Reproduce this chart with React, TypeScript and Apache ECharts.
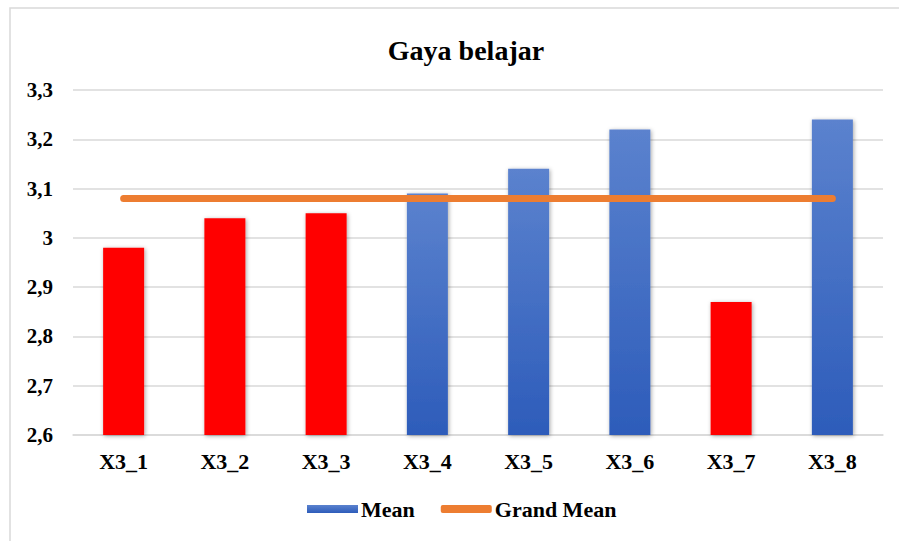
import React, { useEffect, useRef } from "react";
import * as echarts from "echarts";

const categories = ["X3_1", "X3_2", "X3_3", "X3_4", "X3_5", "X3_6", "X3_7", "X3_8"];
const meanValues = [2.98, 3.04, 3.05, 3.09, 3.14, 3.22, 2.87, 3.24];
const grandMean = 3.08;
const grandMeanValues = categories.map(() => grandMean);

const FONT = "Liberation Serif, Times New Roman, serif";

export default function App() {
  const ref = useRef<HTMLDivElement>(null);
  useEffect(() => {
    if (!ref.current) return;
    const chart = echarts.init(ref.current, null, { renderer: "svg" });
    const blue = new echarts.graphic.LinearGradient(0, 0, 0, 1, [
      { offset: 0, color: "#5B82CE" },
      { offset: 1, color: "#2D5CBA" },
    ]);
    chart.setOption({
      animation: false,
      backgroundColor: "#ffffff",
      textStyle: { fontFamily: FONT },
      title: {
        text: "Gaya belajar",
        left: 461,
        textAlign: "center",
        top: 31,
        textStyle: { fontFamily: FONT, fontWeight: "bold", fontSize: 28, color: "#000" },
      },
      graphic: [
        {
          type: "rect",
          shape: { x: 10, y: 8, width: 895, height: 540 },
          style: { fill: "none", stroke: "#d9d9d9", lineWidth: 1.5 },
          silent: true,
        },
      ],
      legend: {
        bottom: 16,
        left: 302,
        itemGap: 26,
        itemWidth: 51,
        itemHeight: 8,
        textStyle: { fontFamily: FONT, fontWeight: "bold", fontSize: 22, color: "#000", padding: [0, 0, 0, -2] },
        data: [
          { name: "Mean", icon: "rect", itemStyle: { color: blue } },
          { name: "Grand Mean", icon: "roundRect", itemStyle: { color: "#ED7D31" } },
        ],
      },
      grid: { left: 73, right: 16, top: 90, bottom: 106, containLabel: false },
      xAxis: {
        type: "category",
        data: categories,
        axisLine: { show: true, lineStyle: { color: "#d9d9d9", width: 1.5 } },
        axisTick: { show: false },
        axisLabel: { fontFamily: FONT, fontWeight: "bold", fontSize: 22, color: "#000", margin: 15 },
      },
      yAxis: {
        type: "value",
        min: 2.6,
        max: 3.3,
        interval: 0.1,
        axisLine: { show: false },
        axisTick: { show: false },
        splitLine: { lineStyle: { color: "#d9d9d9", width: 1.5 } },
        axisLabel: {
          fontFamily: FONT,
          fontWeight: "bold",
          fontSize: 21,
          color: "#000",
          margin: 20,
          formatter: (v: number) => {
            const r = Math.round(v * 10) / 10;
            return r === 3 ? "3" : r.toFixed(1).replace(".", ",");
          },
        },
      },
      series: [
        {
          name: "Mean",
          type: "bar",
          barWidth: 41,
          data: meanValues.map((v) => ({
            value: v,
            itemStyle: { color: v < grandMean ? "#FF0000" : blue },
          })),
          itemStyle: {
            color: blue,
            shadowColor: "rgba(0,0,0,0.35)",
            shadowBlur: 4,
            shadowOffsetX: 1,
            shadowOffsetY: 1,
          },
        },
        {
          name: "Grand Mean",
          type: "line",
          data: grandMeanValues,
          symbol: "none",
          color: "#ED7D31",
          z: 3,
          lineStyle: {
            color: "#ED7D31",
            width: 7,
            cap: "round",
          },
          itemStyle: { color: "#ED7D31" },
        },
      ],
    });
    return () => chart.dispose();
  }, []);
  return (
    <div
      ref={ref}
      style={{ position: "fixed", left: 0, top: 0, width: 899, height: 541 }}
    />
  );
}
